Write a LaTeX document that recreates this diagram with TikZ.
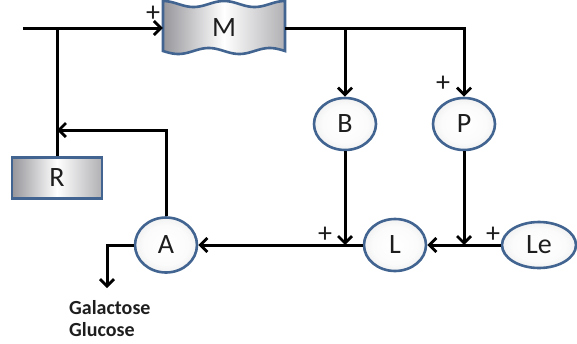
\documentclass[tikz,border=0pt]{standalone}
\usepackage{fontspec}
\setmainfont{Carlito}
\usetikzlibrary{arrows.meta,shapes.geometric}
\definecolor{edgeblue}{RGB}{66,100,145}
\definecolor{shadegray}{RGB}{150,152,160}
\definecolor{boxgray}{RGB}{150,150,155}
\definecolor{inkgray}{RGB}{30,30,30}
% soft bubble fill: white core fading to grey at the rim
\pgfdeclareradialshading{bubbleshade}{\pgfpoint{0bp}{0bp}}{%
  color(0bp)=(white); color(18bp)=(white!96!shadegray);
  color(38bp)=(white!70!shadegray); color(50bp)=(shadegray); color(72bp)=(shadegray)}
\begin{document}
\begin{tikzpicture}[x=1pt,y=-1pt,
  wire/.style={line width=3pt, black},
  arr/.style={wire, -{Straight Barb[length=7pt,width=14pt,line width=2.8pt]}},
  lbl/.style={text=inkgray, font=\fontsize{28}{28}\selectfont},
  bubble/.style={ellipse, draw=edgeblue, line width=2.6pt, shading=bubbleshade,
    minimum width=62pt, minimum height=52pt, inner sep=0pt, lbl},
  block/.style={draw=edgeblue, line width=2.6pt, left color=boxgray,
    right color=boxgray!75!white, middle color=white},
  sign/.style={text=inkgray, font=\fontsize{28}{28}\selectfont, inner sep=0pt},
]
\useasboundingbox (0,0) rectangle (577,343);

% wavy block for M (two wave periods across its width)
\path[block] plot[domain=0:122,samples=61,smooth] (\x+163,{4-3*cos(5.9016*\x)})
  -- plot[domain=122:0,samples=61,smooth] (\x+163,{51+3*sin(5.9016*\x)}) -- cycle;
\node[lbl, minimum width=122pt, minimum height=44pt, inner sep=0pt] (M) at (224,28) {M};

% other blocks
\node[block, lbl, minimum width=90pt, minimum height=41pt, inner sep=0pt] (R) at (57,178) {R};
\node[bubble] (B) at (345,124) {B};
\node[bubble] (P) at (464,124) {P};
\node[bubble] (L) at (395,245) {L};
\node[bubble, minimum width=74pt, minimum height=46pt] (Le) at (539,245) {Le};
\node[bubble, minimum height=55pt] (A) at (166,245) {A};

% connectors
\coordinate (src) at (23,28);
\coordinate (jR) at (57,28);
\coordinate (jB) at (345,28);
\coordinate (fb) at (57,130);
\coordinate (out) at (107,288);
\draw[arr] (src) -- (M.west);
\draw[wire] (jR) -- (R.north);
\draw[arr] (M.east) -| (P.north);
\draw[arr] (jB) -- (B.north);
\draw[arr] (B.south) -- (B.south |- L.west);
\draw[arr] (P.south) -- (P.south |- Le.west);
\draw[arr] (Le.west) -- (L.east);
\draw[arr] (L.west) -- (A.east);
\draw[arr] (A.north) |- (fb);
\draw[arr] (A.west) -| (out);

% signs
\node[sign] (s1) at (153,14) {+};
\node[sign] (s2) at (443,84) {+};
\node[sign] (s3) at (325,235) {+};
\node[sign] (s4) at (493,235) {+};

% products
\node[anchor=north west, align=left, inner sep=0pt, text=inkgray,
  font=\bfseries\fontsize{20}{22}\selectfont] (sugars) at (69,300) {Galactose\\Glucose};
\end{tikzpicture}
\end{document}
